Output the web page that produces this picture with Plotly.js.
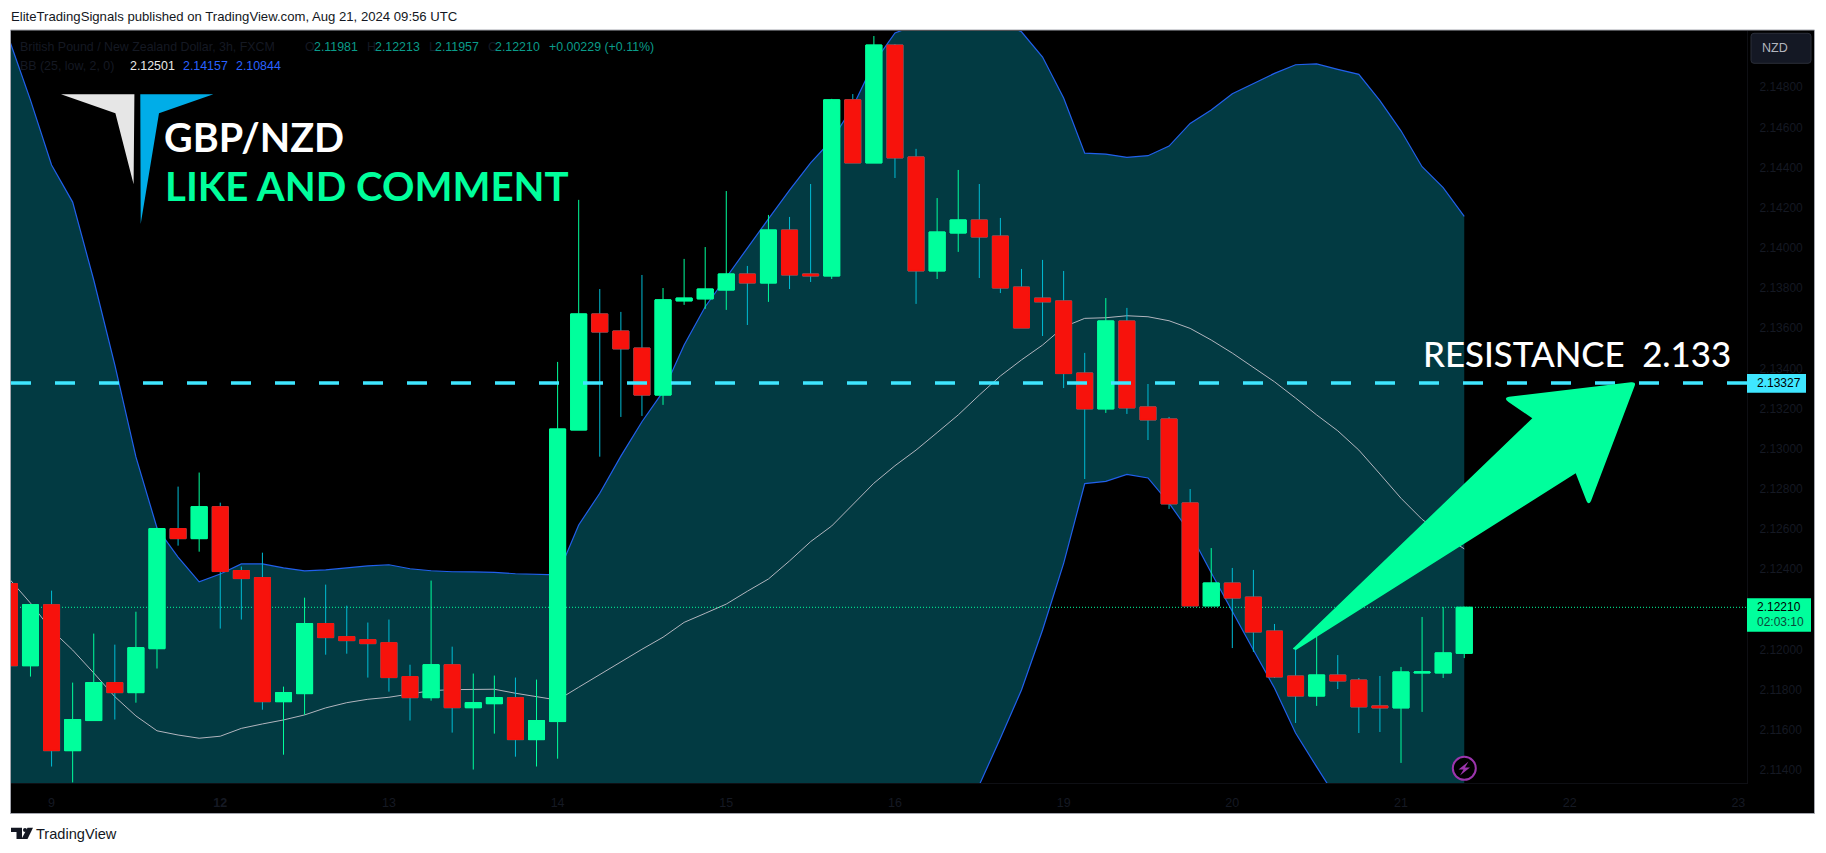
<!DOCTYPE html>
<html><head><meta charset="utf-8">
<script src="https://cdn.plot.ly/plotly-3.0.1.min.js"></script>
<style>html,body{margin:0;padding:0;background:#fff}#c{width:1826px;height:853px}</style>
</head><body><div id="c"></div>
<script>
const opens=[2.12328,2.11919,2.12223,2.11496,2.11646,2.11835,2.11785,2.12004,2.12602,2.12552,2.12711,2.12393,2.12358,2.1174,2.1178,2.12129,2.12064,2.12049,2.12034,2.11865,2.1176,2.11924,2.1171,2.1173,2.1176,2.11551,2.11641,2.13093,2.13671,2.13586,2.13501,2.13267,2.13736,2.13746,2.1379,2.1387,2.13825,2.14089,2.1387,2.1386,2.14737,2.14423,2.1501,2.14453,2.13885,2.14074,2.14139,2.14059,2.13805,2.1375,2.13736,2.13377,2.13198,2.13636,2.13208,2.13148,2.1273,2.12217,2.12331,2.12261,2.12092,2.11868,2.11768,2.11873,2.11848,2.11719,2.11709,2.11883,2.11883,2.11981];
const highs=[2.12328,2.12223,2.12293,2.11835,2.12079,2.12024,2.12188,2.12607,2.12811,2.12881,2.12731,2.12413,2.12482,2.11815,2.12258,2.12323,2.12218,2.12134,2.12149,2.11924,2.12343,2.12014,2.1188,2.1187,2.1186,2.1185,2.13432,2.14239,2.13795,2.13681,2.13865,2.138,2.13945,2.14004,2.14283,2.1391,2.14164,2.14154,2.14318,2.14742,2.14766,2.15055,2.15015,2.14493,2.14248,2.14388,2.14318,2.14149,2.13895,2.1394,2.13885,2.13477,2.1375,2.13701,2.13322,2.13158,2.12799,2.12505,2.12406,2.12396,2.12127,2.12007,2.12097,2.11972,2.11858,2.11868,2.11913,2.12162,2.12212,2.12213];
const lows=[2.11919,2.11865,2.11417,2.11338,2.11646,2.11651,2.11735,2.11905,2.12517,2.12487,2.12104,2.12149,2.117,2.11476,2.11675,2.11974,2.11979,2.1186,2.1179,2.11646,2.11745,2.11586,2.11402,2.11581,2.11466,2.11417,2.11456,2.13093,2.1296,2.13158,2.13163,2.13218,2.13716,2.13696,2.13691,2.13616,2.13731,2.13795,2.1383,2.13845,2.14423,2.14423,2.14348,2.13721,2.13845,2.1398,2.1385,2.13775,2.13601,2.13561,2.13302,2.12849,2.13178,2.13173,2.13043,2.127,2.12217,2.12217,2.12007,2.11988,2.11858,2.11634,2.11719,2.11803,2.11584,2.11589,2.11435,2.11689,2.11858,2.11957];
const closes=[2.11919,2.12223,2.11496,2.11651,2.11835,2.11785,2.12009,2.12602,2.12552,2.12711,2.12388,2.12353,2.1174,2.11785,2.12129,2.12059,2.12044,2.12029,2.1186,2.1176,2.11924,2.1171,2.11735,2.1176,2.11551,2.11646,2.13098,2.13671,2.13581,2.13497,2.13267,2.13741,2.1375,2.13795,2.1387,2.13825,2.14089,2.13865,2.1386,2.14737,2.14423,2.1501,2.14448,2.13885,2.14079,2.14139,2.14054,2.138,2.13601,2.13731,2.13374,2.13198,2.13636,2.13203,2.13143,2.12725,2.12217,2.12331,2.12256,2.12087,2.11863,2.11768,2.11873,2.11843,2.11714,2.11709,2.11888,2.11888,2.11983,2.1221];
const bbUpper=[2.15035,2.14736,2.14413,2.14228,2.1384,2.13417,2.12959,2.12605,2.1246,2.12337,2.12376,2.12426,2.12426,2.12406,2.12391,2.12396,2.12406,2.12416,2.12422,2.12402,2.12392,2.12387,2.12386,2.12384,2.12377,2.12374,2.12371,2.1262,2.12778,2.12963,2.13134,2.13284,2.13516,2.13707,2.13856,2.13999,2.14144,2.14288,2.14423,2.14537,2.14703,2.14921,2.1507,2.1511,2.1516,2.15175,2.1516,2.15125,2.15076,2.1495,2.14746,2.14472,2.14467,2.14451,2.14459,2.14507,2.1462,2.14687,2.14768,2.1482,2.14869,2.14912,2.14916,2.14889,2.14864,2.14733,2.14583,2.14404,2.143,2.14157];
const bbMid=[2.12351,2.12231,2.12097,2.11997,2.11883,2.11765,2.11669,2.11595,2.11574,2.11558,2.11568,2.11607,2.11629,2.11649,2.11674,2.11709,2.11735,2.11752,2.11762,2.11777,2.11795,2.118,2.11802,2.11802,2.11782,2.11765,2.11748,2.11812,2.11876,2.11939,2.12001,2.12061,2.12135,2.1218,2.12226,2.1229,2.12351,2.12441,2.12537,2.12615,2.12724,2.12828,2.12915,2.12993,2.1308,2.13168,2.13267,2.13362,2.13442,2.13516,2.13606,2.13649,2.13652,2.13662,2.13657,2.13637,2.13599,2.13541,2.13476,2.13405,2.13333,2.13252,2.13168,2.13089,2.12993,2.12874,2.12753,2.12648,2.1257,2.12501];
const bbLower=[2.09667,2.09726,2.09781,2.09766,2.09926,2.10113,2.10379,2.10585,2.10688,2.10779,2.1076,2.10788,2.10832,2.10892,2.10957,2.11022,2.11064,2.11088,2.11102,2.11152,2.11198,2.11213,2.11218,2.1122,2.11187,2.11156,2.11125,2.11004,2.10974,2.10915,2.10868,2.10838,2.10754,2.10653,2.10596,2.10581,2.10558,2.10594,2.10651,2.10693,2.10745,2.10735,2.1076,2.10876,2.11,2.11161,2.11325,2.11558,2.11798,2.12097,2.12429,2.12826,2.12837,2.12872,2.12854,2.12729,2.1258,2.12382,2.12188,2.11997,2.11808,2.11584,2.11415,2.1125,2.11122,2.11015,2.10923,2.10892,2.1084,2.10844];
const xTickVals=[2,10,18,26,34,42,50,58,66,74,82];
const xTickText=['9','<b>12</b>','13','14','15','16','19','20','21','22','23'];
const yTickVals=[2.114,2.116,2.118,2.12,2.122,2.124,2.126,2.128,2.13,2.132,2.134,2.136,2.138,2.14,2.142,2.144,2.146,2.148];
const resistance=2.13327;
const lastPrice=2.1221;

const W=1826,H=853,L=11,R=1747,T=31,B=783;
const XR=[0.0759,82.41],YR=[2.11335,2.1508];
const PX=x=>(x-L)/(R-L), PY=y=>(B-y)/(B-T);
const poly=pts=>'M'+pts.map(p=>PX(p[0])+','+PY(p[1])).join('L')+'Z';
const sh=(path,color,extra)=>Object.assign({type:'path',xref:'paper',yref:'paper',path:path,fillcolor:color,line:{width:0},layer:'above'},extra||{});
const rect=(x0,y0,x1,y1,fill,lineColor,layer)=>({type:'rect',xref:'paper',yref:'paper',x0:PX(x0),x1:PX(x1),y0:PY(y0),y1:PY(y1),fillcolor:fill,line:{width:lineColor?1:0,color:lineColor||fill},layer:layer||'above'});
const ann=(text,x,y,color,size,family,extra)=>Object.assign({xref:'paper',yref:'paper',x:PX(x),y:PY(y),text:text,showarrow:false,xanchor:'left',yanchor:'middle',font:{color:color,size:size,family:family||'"Liberation Sans",Arial,sans-serif'},borderpad:0,borderwidth:0},extra||{});

const idx=opens.map((_,i)=>i);
const GREEN='#00ff9c',RED='#f7120c',CYAN='#00bcd4',BLUE='#2160ec',MID='#b2b5be',DASH='#3fe6ff',BAND='#023a42';
const bodyHi=opens.map((o,i)=>Math.max(o,closes[i]));
const bodyLo=opens.map((o,i)=>Math.min(o,closes[i]));

const traces=[
 {type:'scatter',mode:'lines',x:idx,y:bbUpper,line:{color:BLUE,width:1.2},hoverinfo:'skip',showlegend:false},
 {type:'scatter',mode:'lines',x:idx,y:bbLower,line:{color:BLUE,width:1.2},fill:'tonexty',fillcolor:BAND,hoverinfo:'skip',showlegend:false},
 {type:'scatter',mode:'lines',x:idx,y:bbMid,line:{color:MID,width:1},hoverinfo:'skip',showlegend:false},
 {type:'scatter',mode:'lines',x:XR,y:[lastPrice,lastPrice],line:{color:GREEN,width:1,dash:'1px,2px'},hoverinfo:'skip',showlegend:false},
 {type:'candlestick',xaxis:'x2',yaxis:'y2',x:idx,open:opens,high:highs,low:lows,close:closes,whiskerwidth:0,
  increasing:{line:{color:GREEN,width:1},fillcolor:GREEN},decreasing:{line:{color:CYAN,width:1},fillcolor:RED},hoverinfo:'skip',showlegend:false},
 {type:'candlestick',xaxis:'x2',yaxis:'y2',x:idx,open:opens,high:bodyHi,low:bodyLo,close:closes,whiskerwidth:0,
  increasing:{line:{color:GREEN,width:1},fillcolor:GREEN},decreasing:{line:{color:RED,width:1},fillcolor:RED},hoverinfo:'skip',showlegend:false}
];

const shapes=[
 rect(10.5,30,1814.5,813.5,'#000000','#a4a6ae','below'),
 {type:'line',xref:'paper',yref:'y',x0:0,x1:1,y0:resistance,y1:resistance,line:{color:DASH,width:3.3,dash:'20px,24px'},layer:'above'},
 sh('M'+PX(1294)+','+PY(647.5)+'L'+PX(1532.3)+','+PY(418.3)+'L'+PX(1508.5)+','+PY(402)+'Q'+PX(1503)+','+PY(397.8)+' '+PX(1509)+','+PY(396.8)
   +'L'+PX(1631)+','+PY(382.3)+'Q'+PX(1636)+','+PY(381.8)+' '+PX(1634.8)+','+PY(385.5)
   +'L'+PX(1591)+','+PY(501)+'Q'+PX(1588.7)+','+PY(505.5)+' '+PX(1586.5)+','+PY(501)
   +'L'+PX(1575.7)+','+PY(473.3)+'L'+PX(1296)+','+PY(650)+'Q'+PX(1291)+','+PY(649)+' '+PX(1294)+','+PY(647.5)+'Z',GREEN),
 sh(poly([[61,94.3],[134.4,94.3],[133.6,184.3],[115.4,113.3]]),'#e6e6e6'),
 sh(poly([[140.3,94.3],[213.4,94.3],[159,113.3],[140.7,224]]),'#00ade8'),
 sh(poly([[11,827.7],[22,827.7],[22,839],[16.5,839],[16.5,832],[11,832]]),'#131722'),
 sh(poly([[27.5,827.7],[33,827.7],[27.5,839],[21.5,839]]),'#131722'),
 {type:'circle',xref:'paper',yref:'paper',x0:PX(23),x1:PX(27),y0:PY(832),y1:PY(828),fillcolor:'#131722',line:{width:0},layer:'above'},
 {type:'path',xref:'paper',yref:'paper',path:'M'+PX(1754)+','+PY(33.3)+'L'+PX(1808)+','+PY(33.3)+'Q'+PX(1811)+','+PY(33.3)+' '+PX(1811)+','+PY(36.3)+'L'+PX(1811)+','+PY(60.3)+'Q'+PX(1811)+','+PY(63.3)+' '+PX(1808)+','+PY(63.3)+'L'+PX(1754)+','+PY(63.3)+'Q'+PX(1751)+','+PY(63.3)+' '+PX(1751)+','+PY(60.3)+'L'+PX(1751)+','+PY(36.3)+'Q'+PX(1751)+','+PY(33.3)+' '+PX(1754)+','+PY(33.3)+'Z',fillcolor:'#141824',line:{width:1,color:'#2a2e39'},layer:'above'},
 rect(1747,374,1806,392.7,DASH),
 rect(1747,598.3,1811,631.7,GREEN),
 {type:'circle',xref:'paper',yref:'paper',x0:PX(1452.8),x1:PX(1475.8),y0:PY(779.8),y1:PY(756.8),fillcolor:'#000000',line:{width:2,color:'#9c35ad'},layer:'above'},
 sh(poly([[1468.5,761.5],[1458.5,769.5],[1463.5,769.5],[1460,775.5],[1470,767.5],[1465,767.5]]),'#9c35ad')
];

const DARK='#151923',TEAL='#0a9c8a',LS=12.4;
const annotations=[
 ann('EliteTradingSignals published on TradingView.com, Aug 21, 2024 09:56 UTC',11,16.5,'#131722',13.15),
 ann('TradingView',36,834,'#131722',14.6),
 ann('British Pound / New Zealand Dollar, 3h, FXCM',20,46.7,DARK,LS),
 ann('O',305,46.7,DARK,LS),ann('2.11981',313.5,46.7,TEAL,LS),
 ann('H',367,46.7,DARK,LS),ann('2.12213',375,46.7,TEAL,LS),
 ann('L',429,46.7,DARK,LS),ann('2.11957',435,46.7,TEAL,LS),
 ann('C',488,46.7,DARK,LS),ann('2.12210',495,46.7,TEAL,LS),
 ann('+0.00229 (+0.11%)',549,46.7,TEAL,LS),
 ann('BB (25, low, 2, 0)',20,66,DARK,LS),
 ann('2.12501',129.6,66,'#e8e8e8',LS),
 ann('2.14157',182.6,66,'#2962ff',LS),
 ann('2.10844',236,66,'#2962ff',LS),
 ann('GBP/NZD',164,136,'#ffffff',39.5,'Lato',{font:{color:'#ffffff',size:39.5,family:'Lato',weight:700}}),
 ann('LIKE AND COMMENT',165,186,GREEN,40.2,'Lato',{font:{color:GREEN,size:40.2,family:'Lato',weight:700}}),
 ann('RESISTANCE\u00a0\u00a02.133',1423,353,'#ffffff',34.8,'Lato',{font:{color:'#ffffff',size:34.8,family:'Lato',weight:500}}),
 ann('NZD',1761.7,48,'#b2b5be',12.5),
 ann('2.13327',1756.7,383,'#000000',12),
 ann('2.12210',1756.7,607.3,'#000000',12),
 ann('02:03:10',1756.7,622,'#0a4a3a',12)
];

const layout={
 width:W,height:H,paper_bgcolor:'#ffffff',plot_bgcolor:'#000000',
 margin:{l:L,r:W-R,t:T,b:H-B,pad:0,autoexpand:false},
 showlegend:false,dragmode:false,hovermode:false,boxgap:0.24,boxgroupgap:0,
 xaxis:{type:'linear',range:XR,tickmode:'array',tickvals:xTickVals,ticktext:xTickText,
  showgrid:false,zeroline:false,showline:true,linecolor:'#0e0f14',linewidth:1,ticks:'outside',ticklen:8,tickcolor:'rgba(0,0,0,0)',
  tickfont:{family:'"Liberation Sans",Arial,sans-serif',size:12.5,color:'#151923'}},
 yaxis:{side:'right',range:YR,tickmode:'array',tickvals:yTickVals,tickformat:'.5f',
  showgrid:false,zeroline:false,showline:true,linecolor:'#0e0f14',linewidth:1,ticks:'outside',ticklen:9,tickcolor:'rgba(0,0,0,0)',
  tickfont:{family:'"Liberation Sans",Arial,sans-serif',size:12,color:'#151923'}},
 xaxis2:{type:'linear',overlaying:'x',range:XR,visible:false,rangeslider:{visible:false}},
 yaxis2:{overlaying:'y',side:'right',range:YR,visible:false},
 shapes:shapes,annotations:annotations
};
Plotly.newPlot('c',traces,layout,{staticPlot:true,displayModeBar:false});
</script></body></html>
